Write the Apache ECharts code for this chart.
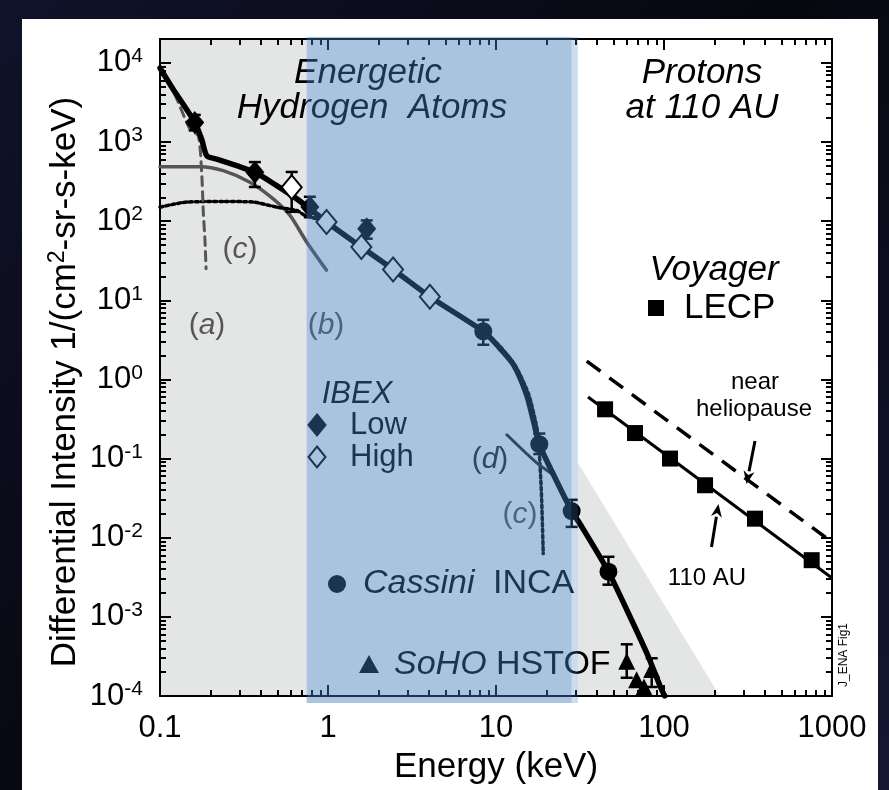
<!DOCTYPE html>
<html><head><meta charset="utf-8">
<script src="https://cdn.jsdelivr.net/npm/echarts@6/dist/echarts.min.js"></script>
<style>html,body{margin:0;padding:0;background:#0a0b16;}#c{width:889px;height:790px;}</style>
</head><body><div id="c"></div>
<script>
// ---------- data (keV, 1/(cm^2-sr-s-keV)) ----------
const xTicks = [0.1, 1, 10, 100, 1000];
const xTickLabels = ['0.1', '1', '10', '100', '1000'];
const yTicks = [1e-4, 1e-3, 1e-2, 1e-1, 1, 10, 100, 1000, 10000];
const yTickExps = ['-4', '-3', '-2', '-1', '0', '1', '2', '3', '4'];
const xMin = 0.1, xMax = 1000, yMin = 1e-4, yMax = 2e4;

const mainCurve = [[0.1, 8600], [0.12, 4600], [0.144, 2580], [0.161, 1760], [0.177, 1084], [0.19, 668],
  [0.2175, 608], [0.286, 501], [0.367, 414], [0.495, 281], [0.652, 191], [0.78, 143], [0.98, 97.6],
  [1.58, 47], [2.44, 24.5], [4.04, 11.1], [8.4, 4.05], [10.1, 2.74], [12.7, 1.54], [15.2, 0.645],
  [16.7, 0.299], [18.1, 0.152], [21.9, 0.0638], [28.2, 0.0217], [31.6, 0.015], [46.7, 0.00372],
  [60, 0.00123], [78.9, 3.5e-4], [94.7, 1.34e-4], [101, 1e-4]];
const curveA = [[0.1, 8600], [0.12, 4400], [0.151, 1450], [0.169, 1194], [0.177, 414], [0.181, 130], [0.185, 60], [0.188, 25]];
const curveB = [[0.1, 487], [0.173, 487], [0.238, 434], [0.343, 310], [0.472, 191], [0.594, 118], [0.746, 54.6], [0.98, 24]];
const curveC = [[0.1, 150], [0.144, 174], [0.238, 177], [0.359, 174], [0.495, 150], [0.652, 136], [0.73, 118],
  [0.98, 96], [1.58, 46], [2.44, 24], [4.04, 11], [8.4, 4.0], [10.4, 2.7], [13.0, 1.5], [15.6, 0.66],
  [17.1, 0.31], [17.8, 0.2], [18.3, 0.08], [18.7, 0.03], [19.1, 0.0063]];
const curveD = [[11.6, 0.2], [17.5, 0.088], [22, 0.062]];
const lecpFit = [[35.3, 0.6], [1000, 0.0031]];
const heliopause = [[34.7, 1.7], [1000, 0.0088]];

const ibexLow = [[0.161, 1760], [0.367, 414], [0.78, 151], [1.7, 80]];
const ibexHigh = [[0.608, 268], [0.98, 97.6], [1.58, 47], [2.44, 24.5], [4.04, 11.1]];
const cassini = [[8.4, 4.05], [18.1, 0.152], [28.2, 0.0217], [46.7, 0.00372]];
const soho = [[60, 2.75e-4], [68.7, 1.6e-4], [76, 1.3e-4], [84.5, 2.16e-4]];
const lecp = [[44.6, 0.419], [67.2, 0.21], [108.6, 0.1], [175.5, 0.046], [348, 0.0174], [757, 0.0052]];
// error bars: [energy, low, high]
const errBars = [[0.161, 1400, 2200], [0.367, 270, 557], [0.78, 112, 203], [1.7, 60, 102], [0.608, 131, 418],
  [8.4, 2.74, 5.66], [18.1, 0.114, 0.207], [28.2, 0.0137, 0.0301], [46.7, 0.00255, 0.00574],
  [60, 1.7e-4, 4.5e-4], [84.5, 1.3e-4, 3.0e-4]];
// shaded regions
const enaBand = [0.746, 28.2];
const enaEdge = [28.2, 30.7];
const grayLeft = [0.1, 0.746];
const grayWedge = [[30.7, 0.0885], [215, 1e-4], [30.7, 1e-4]];

// ---------- chart ----------
const FF = 'Liberation Sans, Arial, Helvetica, sans-serif';
const minorOf = (decades) => { const r = []; decades.forEach(d => { for (let k = 2; k <= 9; k++) r.push(+(d * k).toPrecision(6)); }); return r; };
const xMinor = minorOf([0.1, 1, 10, 100]);
const yMinor = minorOf([1e-4, 1e-3, 1e-2, 1e-1, 1, 10, 100, 1000, 10000]).filter(v => v < yMax);

function tickAxis(pos, min, max, vals, len, labels) {
  return {
    type: 'log', logBase: 10, position: pos, min: min, max: max,
    axisLine: { show: !!labels || pos === 'top' || pos === 'right', onZero: false, lineStyle: { color: '#000', width: 2 } },
    axisTick: { show: true, inside: true, length: len, lineStyle: { color: '#000', width: 2 }, customValues: vals },
    splitLine: { show: false },
    axisLabel: labels || { show: false }
  };
}
const xLabel = { show: true, customValues: xTicks, margin: 17, color: '#000', fontSize: 31, fontFamily: FF,
  formatter: v => { const i = xTicks.findIndex(t => Math.abs(Math.log10(t) - Math.log10(v)) < 1e-6); return i >= 0 ? xTickLabels[i] : ''; } };
const yLabel = { show: true, customValues: yTicks, margin: 17, color: '#000', fontFamily: FF,
  formatter: v => { const i = yTicks.findIndex(t => Math.abs(Math.log10(t) - Math.log10(v)) < 1e-6); return i >= 0 ? '{b|10}{s|' + yTickExps[i] + '}' : ''; },
  rich: { b: { fontSize: 31, fontFamily: FF, color: '#000', lineHeight: 34 }, s: { fontSize: 21, fontFamily: FF, color: '#000', verticalAlign: 'top', lineHeight: 34 } } };

const xAxes = [tickAxis('bottom', xMin, xMax, xTicks, 11, xLabel), tickAxis('bottom', xMin, xMax, xMinor, 6),
  tickAxis('top', xMin, xMax, xTicks, 11), tickAxis('top', xMin, xMax, xMinor, 6)];
xAxes[0].name = 'Energy (keV)'; xAxes[0].nameLocation = 'middle'; xAxes[0].nameGap = 54;
xAxes[0].nameTextStyle = { fontSize: 35, fontFamily: FF, color: '#000' };
const yAxes = [tickAxis('left', yMin, yMax, yTicks, 11, yLabel), tickAxis('left', yMin, yMax, yMinor, 6),
  tickAxis('right', yMin, yMax, yTicks, 11), tickAxis('right', yMin, yMax, yMinor, 6)];

function lineSeries(data, color, width, type, z) {
  return { type: 'line', data: data, symbol: 'none', smooth: 0.25, z: z || 2, silent: true, animation: false,
    lineStyle: { color: color, width: width, type: type || 'solid', cap: 'round', join: 'round' } };
}
function scatter(data, symbol, size, fill, border) {
  return { type: 'scatter', data: data, symbol: symbol, symbolSize: size, z: 4, animation: false, silent: true,
    itemStyle: { color: fill, borderColor: border || fill, borderWidth: border ? 2 : 0, opacity: 1 } };
}

const series = [
  { type: 'custom', z: -1, silent: true, animation: false, data: [0],
    renderItem: (p, api) => {
      const a = api.coord([grayLeft[0], yMax]), b = api.coord([grayLeft[1], yMin]);
      const pts = grayWedge.map(v => api.coord(v));
      return { type: 'group', children: [
        { type: 'rect', shape: { x: a[0], y: a[1], width: b[0] - a[0], height: b[1] - a[1] }, style: { fill: '#e4e5e5' } },
        { type: 'polygon', shape: { points: pts }, style: { fill: '#e4e5e5' } }] };
    } },
  lineSeries(curveB, '#555', 3.5),
  lineSeries(curveC, '#000', 3.5, [3, 3]),
  lineSeries(curveA, '#555', 3, [9, 6]),
  lineSeries(curveD, '#222', 3),
  lineSeries(mainCurve, '#000', 5.5),
  { type: 'line', data: lecpFit, symbol: 'none', z: 2, silent: true, animation: false, lineStyle: { color: '#000', width: 3 } },
  { type: 'line', data: heliopause, symbol: 'none', z: 2, silent: true, animation: false, lineStyle: { color: '#000', width: 3.5, type: [17, 11] } },
  { type: 'custom', z: 3, silent: true, animation: false, data: errBars,
    renderItem: (p, api) => {
      const lo = api.coord([api.value(0), api.value(1)]), hi = api.coord([api.value(0), api.value(2)]);
      const w = 6, st = { stroke: '#000', lineWidth: 2.5 };
      return { type: 'group', children: [
        { type: 'line', shape: { x1: lo[0], y1: lo[1], x2: hi[0], y2: hi[1] }, style: st },
        { type: 'line', shape: { x1: lo[0] - w, y1: lo[1], x2: lo[0] + w, y2: lo[1] }, style: st },
        { type: 'line', shape: { x1: hi[0] - w, y1: hi[1], x2: hi[0] + w, y2: hi[1] }, style: st }] };
    } },
  scatter(ibexLow, 'diamond', [19, 23], '#000'),
  scatter(ibexHigh, 'diamond', [20, 24], '#fff', '#000'),
  scatter(cassini, 'circle', 18, '#000'),
  scatter(soho, 'triangle', 17, '#000'),
  scatter(lecp, 'rect', 16, '#000'),
  { type: 'custom', z: 20, silent: true, animation: false, data: [0],
    renderItem: (p, api) => {
      const a = api.coord([enaBand[0], yMax]), b = api.coord([enaBand[1], yMin]);
      const c = api.coord([enaEdge[0], yMax]), d = api.coord([enaEdge[1], yMin]);
      return { type: 'group', children: [
        { type: 'rect', shape: { x: a[0], y: a[1] - 2, width: b[0] - a[0], height: b[1] - a[1] + 9 }, style: { fill: 'rgba(61,120,182,0.44)' } },
        { type: 'rect', shape: { x: c[0], y: c[1] - 2, width: d[0] - c[0], height: d[1] - c[1] + 9 }, style: { fill: 'rgba(61,120,182,0.26)' } }] };
    } }
];

// annotations
const T = (text, x, y, size, opt) => Object.assign({ type: 'text', x: x, y: y, z: 10, silent: true,
  style: Object.assign({ text: text, font: (opt && opt.italic ? 'italic ' : '') + size + 'px ' + FF, fill: (opt && opt.color) || '#000',
    align: (opt && opt.align) || 'center', verticalAlign: 'middle' }, opt && opt.style) }, opt && opt.el);
const paren = (letter, x, y, color) => ({ type: 'text', x: x, y: y, z: 10, silent: true, style: { text: '{p|(}{i|' + letter + '}{p|)}', align: 'center', verticalAlign: 'middle',
  rich: { p: { font: '30px ' + FF, fill: color }, i: { font: 'italic 30px ' + FF, fill: color } } } });
const diamond = (cx, cy, w, h, fill) => ({ type: 'polygon', z: 10, silent: true, shape: { points: [[cx, cy - h / 2], [cx + w / 2, cy], [cx, cy + h / 2], [cx - w / 2, cy]] },
  style: { fill: fill, stroke: '#000', lineWidth: 2 } });
const arrow = (x1, y1, x2, y2) => {
  const ang = Math.atan2(y2 - y1, x2 - x1), L = 13, W = 5.5;
  const bx = x2 - L * Math.cos(ang), by = y2 - L * Math.sin(ang);
  const px = -Math.sin(ang) * W, py = Math.cos(ang) * W;
  return [{ type: 'line', z: 10, silent: true, shape: { x1: x1, y1: y1, x2: bx, y2: by }, style: { stroke: '#000', lineWidth: 3 } },
    { type: 'polygon', z: 10, silent: true, shape: { points: [[x2, y2], [bx + px, by + py], [bx + L * 0.3 * Math.cos(ang), by + L * 0.3 * Math.sin(ang)], [bx - px, by - py]] }, style: { fill: '#000' } }];
};

const graphics = [
  { type: 'rect', z: -100, silent: true, shape: { x: 22, y: 19, width: 856, height: 790 }, style: { fill: '#fff' } },
  { type: 'text', x: 65, y: 382, rotation: Math.PI / 2, z: 10, silent: true,
    style: { text: '{a|Differential Intensity 1/(cm}{s|2}{a|-sr-s-keV)}', align: 'center', verticalAlign: 'middle',
      rich: { a: { font: '35px ' + FF, fill: '#000', lineHeight: 38 }, s: { font: '23px ' + FF, fill: '#000', verticalAlign: 'top', lineHeight: 38 } } } },
  T('Energetic', 368, 73, 35, { italic: true }),
  T('Hydrogen  Atoms', 372, 108, 35, { italic: true }),
  T('Protons', 702, 73, 35, { italic: true }),
  T('at 110 AU', 702, 108, 35, { italic: true }),
  T('Voyager', 714, 270, 35, { italic: true }),
  { type: 'rect', z: 10, silent: true, shape: { x: 648, y: 300, width: 16, height: 16 }, style: { fill: '#000' } },
  T('LECP', 684, 308, 35, { align: 'left' }),
  paren('a', 207, 326, '#555'), paren('b', 326, 326, '#555'), paren('c', 240, 250, '#555'),
  paren('c', 520, 515, '#555'), paren('d', 490, 460, '#222'),
  T('IBEX', 357, 394, 31, { italic: true }),
  diamond(317, 425, 17, 21, '#000'), T('Low', 350, 425, 31, { align: 'left' }),
  diamond(317, 457, 17, 21, '#fff'), T('High', 350, 457, 31, { align: 'left' }),
  { type: 'circle', z: 10, silent: true, shape: { cx: 337, cy: 584, r: 9 }, style: { fill: '#000' } },
  T('Cassini', 363, 584, 34, { italic: true, align: 'left' }), T('INCA', 493, 584, 34, { align: 'left' }),
  { type: 'polygon', z: 10, silent: true, shape: { points: [[369, 655], [379, 673], [359, 673]] }, style: { fill: '#000' } },
  T('SoHO', 394, 665, 34, { italic: true, align: 'left' }), T('HSTOF', 496, 665, 34, { align: 'left' }),
  T('near', 755, 382, 24), T('heliopause', 754, 409, 24), T('110 AU', 707, 578, 24),
  T('J_ENA Fig1', 844, 655, 12, { el: { rotation: Math.PI / 2 } })
].concat(arrow(755, 441, 746.5, 484), arrow(711.5, 547, 718.5, 504));

const chart = echarts.init(document.getElementById('c'), null, { renderer: 'canvas' });
chart.setOption({
  animation: false,
  backgroundColor: { type: 'linear', x: 0, y: 0, x2: 1, y2: 1, colorStops: [{ offset: 0, color: '#10132a' }, { offset: 0.5, color: '#07070f' }, { offset: 1, color: '#141833' }] },
  grid: { left: 160, right: 57, top: 39, bottom: 90, containLabel: false },
  xAxis: xAxes, yAxis: yAxes,
  series: series.map(s => Object.assign({ xAxisIndex: 0, yAxisIndex: 0 }, s)),
  graphic: graphics
});
</script></body></html>
